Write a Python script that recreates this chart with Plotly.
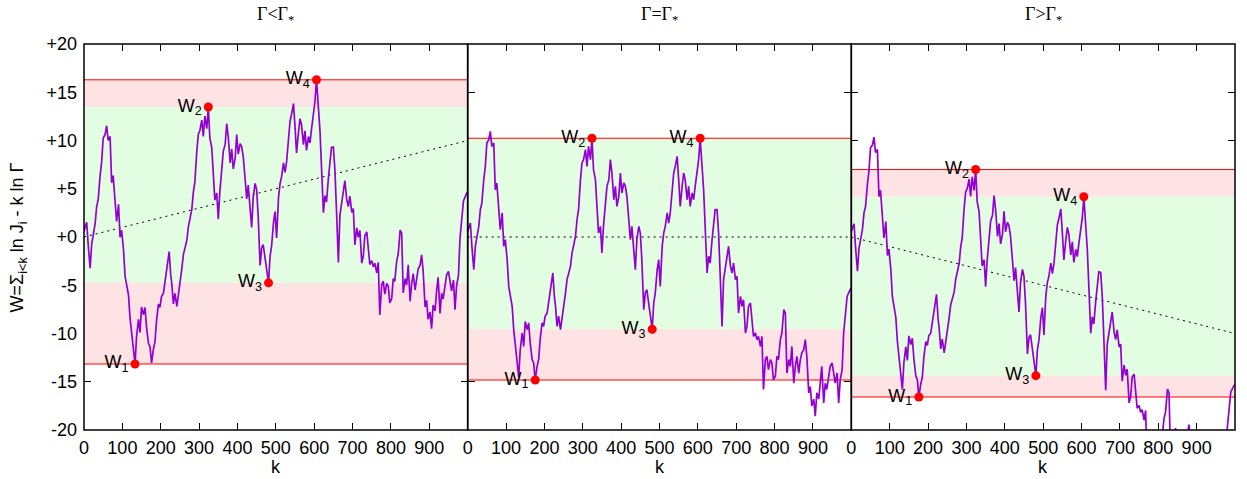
import plotly.graph_objects as go

# ---------------- data ----------------
# base walk (panel Γ=Γ*), sampled steps k and values W
k_steps = [0, 7, 11, 16, 20, 24, 29, 33, 37, 42, 46, 50, 55, 59, 63, 68, 72, 76, 81, 85,
           90, 94, 98, 103, 107, 111, 116, 120, 124, 129, 133, 137, 142, 146, 150, 155, 159, 163, 168, 172,
           176, 181, 185, 189, 194, 198, 202, 207, 211, 216, 222, 226, 229, 233, 237, 242, 246, 250, 255, 259,
           263, 268, 272, 276, 281, 285, 289, 294, 298, 302, 307, 311, 315, 320, 324, 328, 333, 337, 341, 346,
           350, 354, 359, 363, 368, 372, 376, 381, 385, 389, 394, 398, 402, 407, 411, 415, 420, 424, 428, 433,
           437, 441, 446, 450, 454, 459, 463, 467, 472, 476, 481, 485, 489, 494, 498, 502, 507, 511, 515, 520,
           524, 528, 533, 537, 541, 546, 550, 554, 559, 563, 567, 572, 576, 580, 585, 589, 593, 598, 602, 606,
           611, 615, 619, 624, 628, 632, 637, 641, 645, 650, 654, 658, 663, 667, 672, 676, 680, 685, 689, 693,
           698, 702, 706, 711, 715, 719, 724, 728, 732, 737, 741, 745, 750, 754, 758, 763, 767, 771, 776, 780,
           784, 789, 793, 797, 802, 806, 810, 815, 819, 824, 828, 832, 837, 841, 845, 850, 854, 858, 863, 867,
           871, 876, 880, 884, 889, 893, 897, 902, 906, 910, 915, 919, 923, 928, 932, 936, 941, 945, 950, 954,
           958, 963, 967, 971, 976, 980, 984, 989, 993, 999]
w_base = [0.6, 1.45, -0.97, -3.39, -0.97, 0.06, 1.1, 2.83, 3.52, 5.94, 7.32, 9.74, 10.08, 10.94, 9.39, 9.74, 4.9, 5.6, 3.17, 0.76,
          2.49, -0.97, -0.28, -2.35, -5.12, -6.16, -7.19, -9.6, -10.98, -12.7, -14.49, -11.68, -9.95, -11.34, -8.75, -9.6, -8.9, -10.98, -12.7, -13.06,
          -14.82, -13.4, -12.7, -10.6, -8.9, -9.26, -8.2, -7.9, -6.84, -5.8, -3.73, -6.16, -7.19, -9.26, -8.2, -9.6, -8.58, -7.19, -5.8, -4.42,
          -3.73, -3.04, -1.66, -0.97, 0.06, 1.79, 2.83, 5.94, 7.67, 8.02, 9.05, 7.32, 9.39, 8.02, 10.23, 6.98, 5.94, 3.17, 0.41, 1.1,
          -1.66, 1.1, 3.86, 5.25, 5.94, 8.02, 6.63, 3.86, 5.25, 3.17, 4.21, 6.63, 4.56, 5.6, 5.25, 4.21, 1.79, -0.28, 1.1, -1.66,
          -3.39, -0.28, 1.1, 0.41, -2.35, -7.53, -5.8, -5.46, -6.84, -7.88, -9.56, -6.84, -5.8, -3.39, -2.35, -5.12, -0.97, 0.41, 1.1, 2.49,
          1.45, 2.49, 4.9, 6.63, 7.32, 8.36, 5.94, 3.17, 5.25, 6.63, 5.94, 3.86, 5.25, 3.17, 4.56, 3.86, 5.25, 6.63, 8.02, 10.23,
          7.67, 4.9, 1.1, -3.73, -2.0, -2.7, -0.28, 1.1, 2.83, 2.83, 0.41, -3.73, -9.26, -4.42, -3.04, -1.66, -0.97, -3.04, -3.73, -2.7,
          -4.42, -4.08, -7.88, -6.16, -7.19, -6.5, -9.95, -9.26, -7.19, -6.84, -8.58, -10.3, -9.95, -10.64, -10.3, -11.34, -10.3, -15.8, -12.7, -12.37,
          -13.75, -12.7, -13.06, -14.8, -14.4, -12.37, -12.7, -10.64, -9.95, -7.53, -7.88, -14.1, -12.7, -13.4, -11.34, -15.15, -13.4, -12.37, -14.1, -12.7,
          -12.0, -11.68, -10.64, -12.37, -16.15, -15.5, -17.5, -16.8, -18.57, -16.15, -16.8, -14.8, -13.4, -17.2, -15.15, -15.8, -14.1, -13.4, -13.06, -14.1,
          -15.15, -14.1, -17.2, -14.8, -13.75, -9.95, -7.88, -6.16, -5.8, -5.3]

panel_titles = ["Γ&lt;Γ<sub>*</sub>", "Γ=Γ<sub>*</sub>", "Γ&gt;Γ<sub>*</sub>"]
drift_per_step = [0.01, 0.0, -0.01]          # -ln(Γ/Γ*) for each panel
w_point_k = [[133, 324, 481, 606], [176, 324, 481, 606], [176, 324, 481, 606]]
w_point_names = ["W<sub>1</sub>", "W<sub>2</sub>", "W<sub>3</sub>", "W<sub>4</sub>"]
x_tick_vals = [0, 100, 200, 300, 400, 500, 600, 700, 800, 900]
y_tick_vals = [20, 15, 10, 5, 0, -5, -10, -15, -20]
y_tick_text = ["+20", "+15", "+10", "+5", "+0", "-5", "-10", "-15", "-20"]
x_range = [0, 1000]
y_range = [-20, 20]

# ---------------- styling ----------------
PURPLE = "#9400d3"
RED = "#ff0000"
PINK = "#fde3e3"
GREEN = "#e3fde3"
SANS = "Liberation Sans"
SERIF = "Liberation Serif"
FS = 18

fig = go.Figure()
n = 3
domains = [[i / n, (i + 1) / n] for i in range(n)]

for p in range(n):
    xa = "x" if p == 0 else f"x{p+1}"
    ya = "y" if p == 0 else f"y{p+1}"
    d = drift_per_step[p]
    w = [v + d * k for k, v in zip(k_steps, w_base)]
    pts = [w[k_steps.index(k)] for k in w_point_k[p]]
    w1, w2, w3, w4 = pts
    top, mid = max(w2, w4), min(w2, w4)

    def band(lo, hi, color):
        fig.add_trace(go.Scatter(x=[x_range[0], x_range[1], x_range[1], x_range[0], x_range[0]],
                                 y=[lo, lo, hi, hi, lo], fill="toself", fillcolor=color,
                                 mode="lines", line=dict(width=0), hoverinfo="skip",
                                 showlegend=False, xaxis=xa, yaxis=ya))
    if top - mid > 1e-6:
        band(mid, top, PINK)
    band(w3, mid, GREEN)
    band(w1, w3, PINK)
    for lvl in (top, w1):
        fig.add_trace(go.Scatter(x=x_range, y=[lvl, lvl], mode="lines",
                                 line=dict(color=RED, width=1), hoverinfo="skip",
                                 showlegend=False, xaxis=xa, yaxis=ya))
    fig.add_trace(go.Scatter(x=x_range, y=[0, d * x_range[1]], mode="lines",
                             line=dict(color="black", width=1, dash="2px,4px"),
                             hoverinfo="skip", showlegend=False, xaxis=xa, yaxis=ya))
    fig.add_trace(go.Scatter(x=k_steps, y=w, mode="lines",
                             line=dict(color=PURPLE, width=1.7),
                             showlegend=False, xaxis=xa, yaxis=ya))
    fig.add_trace(go.Scatter(x=w_point_k[p], y=pts, mode="markers+text",
                             marker=dict(color=RED, size=9),
                             text=w_point_names, textposition="middle left",
                             textfont=dict(family=SANS, size=FS, color="black"),
                             showlegend=False, xaxis=xa, yaxis=ya, cliponaxis=False))

    axis_common = dict(ticks="inside", ticklen=7, tickwidth=1, tickcolor="black",
                       showline=False, showgrid=False, zeroline=False, mirror="ticks",
                       layer="below traces",
                       tickfont=dict(family=SANS, size=FS, color="black"))
    fig.layout[("xaxis" if p == 0 else f"xaxis{p+1}")] = dict(
        domain=domains[p], range=x_range, anchor=ya, tickvals=x_tick_vals,
        ticklabelstandoff=5, **axis_common)
    fig.layout[("yaxis" if p == 0 else f"yaxis{p+1}")] = dict(
        domain=[0, 1], range=y_range, anchor=xa, tickvals=y_tick_vals,
        ticktext=y_tick_text, showticklabels=(p == 0), ticklabelstandoff=6, **axis_common)

    # frame
    fig.add_shape(type="rect", xref="paper", yref="paper", x0=domains[p][0], x1=domains[p][1],
                  y0=0, y1=1, line=dict(color="black", width=1.5), layer="above")
    # panel title
    fig.add_annotation(text=panel_titles[p], xref="paper", yref="paper",
                       x=(domains[p][0] + domains[p][1]) / 2, y=1.075, showarrow=False,
                       font=dict(family=SERIF, size=18, color="black"),
                       xanchor="center", yanchor="middle")
    # x label
    fig.add_annotation(text="k", xref="paper", yref="paper",
                       x=(domains[p][0] + domains[p][1]) / 2, y=-0.097, showarrow=False,
                       font=dict(family=SANS, size=FS, color="black"),
                       xanchor="center", yanchor="middle")

fig.add_annotation(text="W=Σ<sub>i&lt;k</sub> ln J<sub>i</sub> - k ln Γ", xref="paper", yref="paper",
                   x=-0.057, y=0.5, textangle=-90, showarrow=False,
                   font=dict(family=SANS, size=FS, color="black"),
                   xanchor="center", yanchor="middle")

fig.update_layout(width=1247, height=479, margin=dict(l=84, r=12, t=44, b=49),
                  paper_bgcolor="white", plot_bgcolor="white")

fig.write_html("out.html")
